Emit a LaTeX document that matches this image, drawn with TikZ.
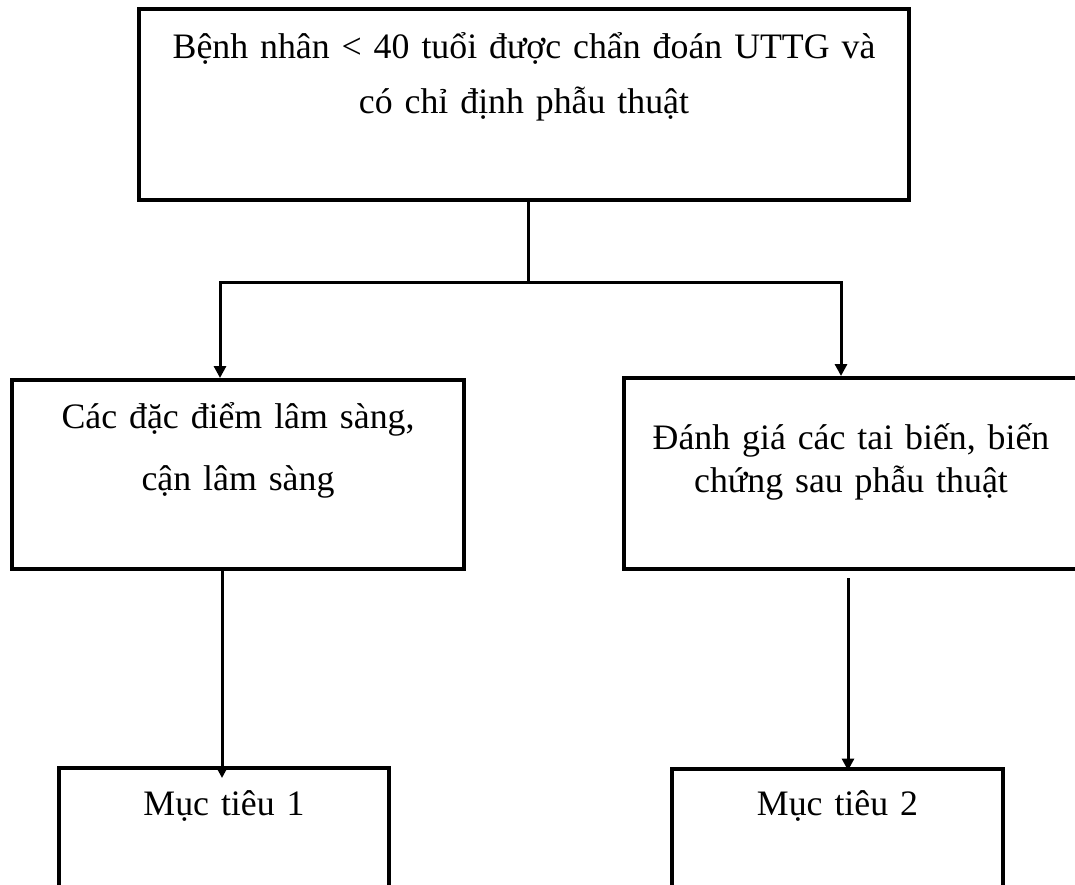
\documentclass[tikz,border=0pt]{standalone}
\usepackage{fontspec}
\setmainfont{Liberation Serif}
\usetikzlibrary{arrows.meta}
\begin{document}
\begin{tikzpicture}[x=1pt,y=-1pt,
    box/.style={draw,line width=4pt,inner sep=0pt},
    txt/.style={anchor=base,align=center,inner sep=0pt,text width=#1},
    link/.style={line width=3pt},
    arrow/.style={link,-{Triangle[width=12pt,length=12pt]}}]
  \clip (0,0) rectangle (1075,884);
  % boxes
  \node[box,minimum width=770pt,minimum height=191pt] (start) at (524,104.5) {};
  \node[box,minimum width=452pt,minimum height=189pt] (clin) at (238,474.5) {};
  \node[box,minimum width=454pt,minimum height=191pt] (comp) at (851,473.5) {};
  \node[box,minimum width=330pt,minimum height=200pt] (goal1) at (224,868) {};
  \node[box,minimum width=331pt,minimum height=200pt] (goal2) at (837.5,868.5) {};
  % texts
  \node[txt=760pt,font=\fontsize{35.8}{55}\selectfont] (starttxt) at (524,58)
    {Bệnh nhân < 40 tuổi được chẩn đoán UTTG và\\có chỉ định phẫu thuật};
  \node[txt=440pt,font=\fontsize{35.8}{62}\selectfont] (clintxt) at (238,428)
    {Các đặc điểm lâm sàng,\\cận lâm sàng};
  \node[txt=440pt,font=\fontsize{35.8}{43}\selectfont] (comptxt) at (851,449)
    {Đánh giá các tai biến, biến\\chứng sau phẫu thuật};
  \node[txt=320pt,font=\fontsize{35.8}{43}\selectfont] (goal1txt) at (224,815) {Mục tiêu 1};
  \node[txt=320pt,font=\fontsize{35.8}{43}\selectfont] (goal2txt) at (837.5,815) {Mục tiêu 2};
  % connectors
  \coordinate (fork) at (528,282);
  \draw[link] (start.south -| fork) -- (fork);
  \draw[arrow] (fork) -| ([xshift=-18pt]clin.north);
  \draw[arrow] (fork) -| ([xshift=-10pt]comp.north);
  \draw[arrow] ([xshift=-16pt]clin.south) -- ([xshift=-2pt,yshift=-12pt]goal1.north);
  \draw[arrow] ([xshift=-3pt,yshift=-7pt]comp.south) -- ([xshift=10.5pt,yshift=-4pt]goal2.north);
\end{tikzpicture}
\end{document}
